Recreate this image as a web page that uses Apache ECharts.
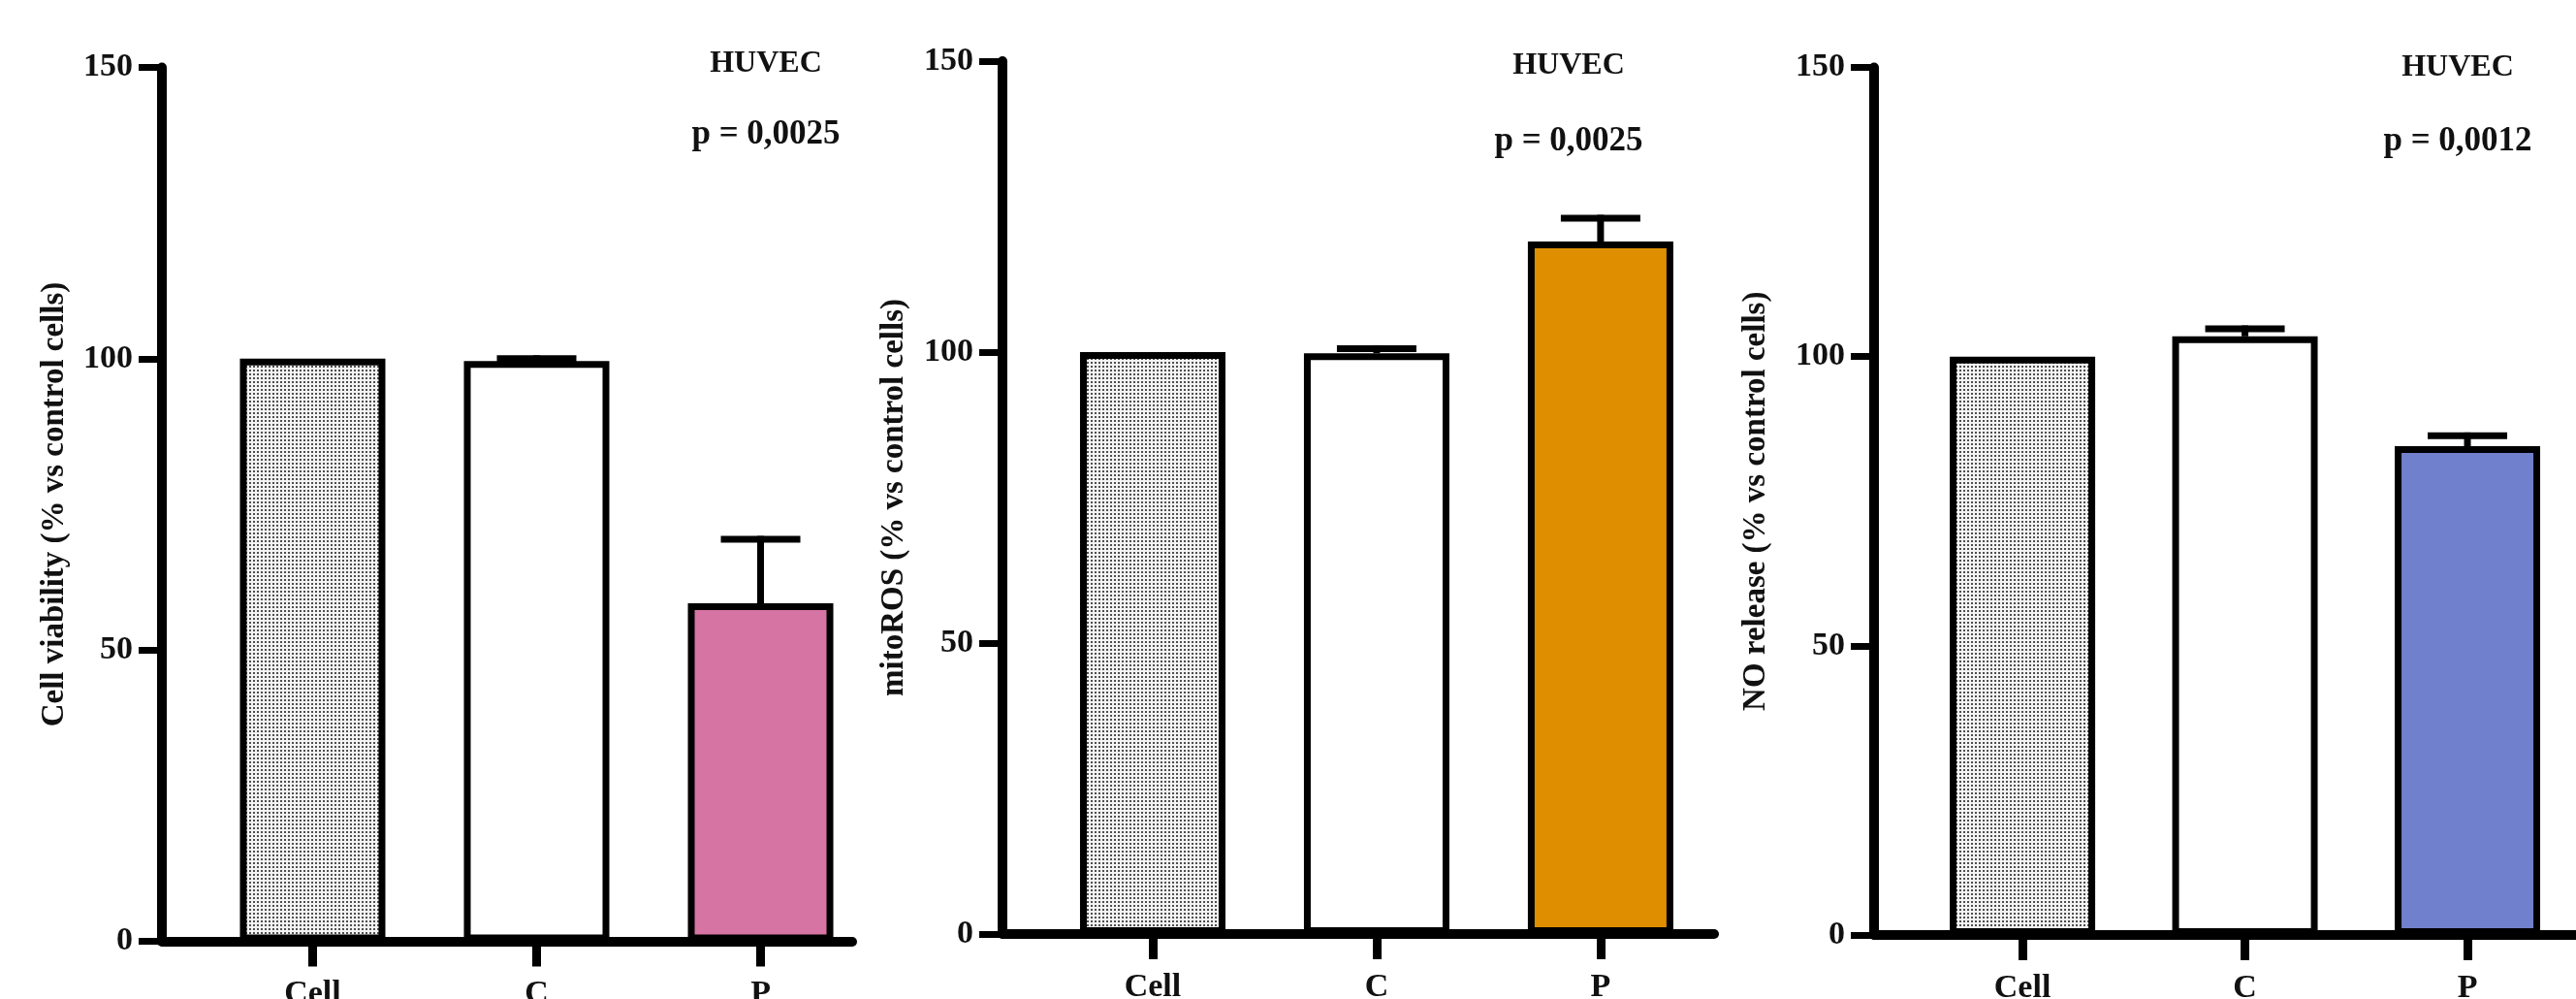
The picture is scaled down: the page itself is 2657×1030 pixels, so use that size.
<!DOCTYPE html>
<html><head><meta charset="utf-8">
<script src="https://cdn.jsdelivr.net/npm/echarts@6/dist/echarts.min.js"></script>
<style>html,body{margin:0;padding:0;background:#fff}#c{width:2657px;height:1030px}</style>
</head><body><div id="c"></div>
<script>
// ---- data ----
const categories = ['Cell', 'C', 'P'];
const yMin = 0, yMax = 150, yStep = 50;
const viabilityMean = [100, 99.6, 58];
const viabilityErr  = [0, 0.4, 11];
const mitorosMean   = [100, 99.8, 119];
const mitorosErr    = [0, 0.8, 4];
const noMean        = [100, 103.5, 84.5];
const noErr         = [0, 1.3, 1.8];
const yNames = ['Cell viability (% vs control cells)', 'mitoROS (% vs control cells)', 'NO release (% vs control cells)'];
const cellLine = 'HUVEC';
const pValues = ['p = 0,0025', 'p = 0,0025', 'p = 0,0012'];

// ---- styling / layout ----
const FONT = 'Liberation Serif';
const TXT = '#111';
function makePattern() {
  const c = document.createElement('canvas');
  c.width = 4; c.height = 4;
  const g = c.getContext('2d');
  g.fillStyle = '#f4f4f4'; g.fillRect(0, 0, 4, 4);
  g.fillStyle = '#4e4e4e';
  g.fillRect(1, 1, 2, 2);
  return c;
}
const patternFill = { image: makePattern(), repeat: 'repeat' };
const panels = [
  { left: 167, right: 879, top: 69.5, bottom: 970.5, xmin: -0.673, xmax: 2.409, nameGap: 94, pColor: '#D674A3', mean: viabilityMean, err: viabilityErr, ann: [790, 66, 139] },
  { left: 1034, right: 1768, top: 63, bottom: 963, xmin: -0.671, xmax: 2.507, nameGap: 95, pColor: '#DF8E00', mean: mitorosMean, err: mitorosErr, ann: [1618, 68, 146] },
  { left: 1933, right: 2660, top: 69.5, bottom: 964, xmin: -0.667, xmax: 2.501, nameGap: 105, pColor: '#7080CC', mean: noMean, err: noErr, ann: [2535, 70, 146] }
];
const catIdx = categories.map((_, i) => i);

const grid = [], xAxis = [], yAxis = [], series = [], graphic = [];
panels.forEach((p, k) => {
  grid.push({ left: p.left, top: p.top, width: p.right - p.left, height: p.bottom - p.top, containLabel: false, outerBoundsMode: 'none' });
  xAxis.push({
    type: 'value', gridIndex: k, min: p.xmin, max: p.xmax,
    axisLine: { show: true, onZero: false, lineStyle: { color: '#000', width: 10 } },
    axisTick: { show: true, customValues: catIdx, length: 26, lineStyle: { color: '#000', width: 9 } },
    axisLabel: { customValues: catIdx, formatter: v => categories[Math.round(v)] || '', margin: 38,
      fontSize: 34, fontWeight: 'bold', fontFamily: FONT, color: TXT },
    splitLine: { show: false }
  });
  yAxis.push({
    type: 'value', gridIndex: k, min: yMin, max: yMax, interval: yStep,
    name: yNames[k], nameLocation: 'middle', nameGap: p.nameGap,
    nameTextStyle: { fontSize: 33, fontWeight: 'bold', fontFamily: FONT, color: TXT },
    axisLine: { show: true, onZero: false, lineStyle: { color: '#000', width: 10 } },
    axisTick: { show: true, length: 24, lineStyle: { color: '#000', width: 7 } },
    axisLabel: { margin: 30, fontSize: 34, fontWeight: 'bold', fontFamily: FONT, color: TXT },
    splitLine: { show: false }
  });
  const fills = [patternFill, '#ffffff', p.pColor];
  series.push({
    type: 'bar', xAxisIndex: k, yAxisIndex: k, barWidth: 150,
    data: categories.map((c, i) => ({ value: [i, p.mean[i]], itemStyle: { color: fills[i], borderColor: '#000', borderWidth: 7 } })),
    z: 2, silent: true
  });
  series.push({
    type: 'custom', xAxisIndex: k, yAxisIndex: k, z: 3, silent: true,
    data: categories.map((c, i) => [i, p.mean[i], p.err[i]]),
    encode: { x: 0, y: 1 },
    renderItem: (params, api) => {
      const x = api.value(0), m = api.value(1), e = api.value(2);
      if (!e) return null;
      const p0 = api.coord([x, m]);
      const p1 = api.coord([x, m + e]);
      const st = { stroke: '#000', lineWidth: 7 };
      return { type: 'group', children: [
        { type: 'line', shape: { x1: p0[0], y1: p0[1], x2: p1[0], y2: p1[1] - 3.5 }, style: st },
        { type: 'line', shape: { x1: p1[0] - 41, y1: p1[1], x2: p1[0] + 41, y2: p1[1] }, style: st }
      ] };
    }
  });
  graphic.push({ type: 'text', silent: true,
    style: { text: cellLine, x: p.ann[0], y: p.ann[1], textAlign: 'center', textVerticalAlign: 'middle',
      fontSize: 32, fontWeight: 'bold', fontFamily: FONT, fill: TXT } });
  graphic.push({ type: 'text', silent: true,
    style: { text: pValues[k], x: p.ann[0], y: p.ann[2], textAlign: 'center', textVerticalAlign: 'middle',
      fontSize: 35, fontWeight: 'bold', fontFamily: FONT, fill: TXT } });
});

const chart = echarts.init(document.getElementById('c'), null, { renderer: 'canvas' });
chart.setOption({
  backgroundColor: '#ffffff',
  animation: false,
  grid, xAxis, yAxis, series, graphic
});
</script>
</body></html>
